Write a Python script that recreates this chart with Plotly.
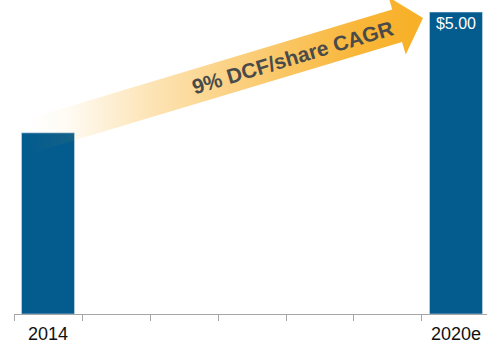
import math
import plotly.graph_objects as go

# ---- data ----
categories = ["2014", "2015", "2016", "2017", "2018", "2019", "2020e"]
dcf_per_share = [3.00, None, None, None, None, None, 5.00]
tick_labels = ["2014", "", "", "", "", "", "2020e"]
bar_labels = ["", "", "", "", "", "", "$5.00"]
arrow_label = "9% DCF/share CAGR"

BAR_COLOR = "#045C8E"
W, H = 487, 350
ML, MR, MT, MB = 14, 0, 0, 36

fig = go.Figure()
fig.add_trace(go.Bar(
    x=categories, y=dcf_per_share, marker_color=BAR_COLOR, width=0.78,
    text=bar_labels, textposition="inside", insidetextanchor="end",
    textfont=dict(color="white", size=16, family="Liberation Sans, Arial"),
    hoverinfo="skip", cliponaxis=False,
))

# ---- decorative gradient arrow (overlay axes in page pixels) ----
ang = math.radians(16.7)
u = (math.cos(ang), -math.sin(ang))
n = (math.sin(ang), math.cos(ang))
tip = (423.0, 18.0)
head_len, head_half, shaft_half = 27.0, 30.0, 17.0
tail_x = 28.0
base = (tip[0] - head_len * u[0], tip[1] - head_len * u[1])
t_len = (base[0] - tail_x) / u[0]
tail = (base[0] - t_len * u[0], base[1] - t_len * u[1])

def pt(c, s):
    return (c[0] + s * n[0], c[1] + s * n[1])

poly = [pt(tail, -shaft_half), pt(base, -shaft_half), pt(base, -head_half), tip,
        pt(base, head_half), pt(base, shaft_half), pt(tail, shaft_half), pt(tail, -shaft_half)]
C = "248,176,40"
fig.add_trace(go.Scatter(
    x=[p[0] for p in poly], y=[p[1] for p in poly], xaxis="x2", yaxis="y2",
    mode="lines", line=dict(width=0), fill="toself",
    fillgradient=dict(type="horizontal", start=tail_x, stop=415,
                      colorscale=[[0.0, f"rgba({C},0)"],
                                  [0.1, f"rgba({C},0.05)"],
                                  [0.3, f"rgba({C},0.32)"],
                                  [0.5, f"rgba({C},0.55)"],
                                  [0.7, f"rgba({C},0.76)"],
                                  [0.85, f"rgba({C},0.92)"],
                                  [1.0, f"rgba({C},1)"]]),
    hoverinfo="skip", showlegend=False,
))

fig.add_annotation(
    x=292, y=57, xref="x2", yref="y2", text=arrow_label, showarrow=False,
    textangle=-16.7,
    font=dict(family="Liberation Sans, Arial", size=21, color="#4A4A4A", weight="bold"),
)

fig.update_layout(
    width=W, height=H, margin=dict(l=ML, r=MR, t=MT, b=MB),
    paper_bgcolor="white", plot_bgcolor="white", showlegend=False,
    bargap=0.22,
    xaxis=dict(type="category", range=[-0.5, 6.456], tickmode="array",
               tickvals=categories, ticktext=tick_labels, tickson="boundaries",
               ticks="outside", ticklen=6, tickcolor="#A6A6A6",
               showline=True, linecolor="#A6A6A6", linewidth=1,
               showgrid=False, zeroline=False, ticklabelstandoff=3,
               tickfont=dict(family="Liberation Sans, Arial", size=18, color="#111111")),
    yaxis=dict(range=[0, 5.2], visible=False, showgrid=False, zeroline=False),
    xaxis2=dict(overlaying="x", range=[ML, W - MR], visible=False),
    yaxis2=dict(overlaying="y", range=[H - MB, MT], visible=False),
)

fig.write_html("out.html")
